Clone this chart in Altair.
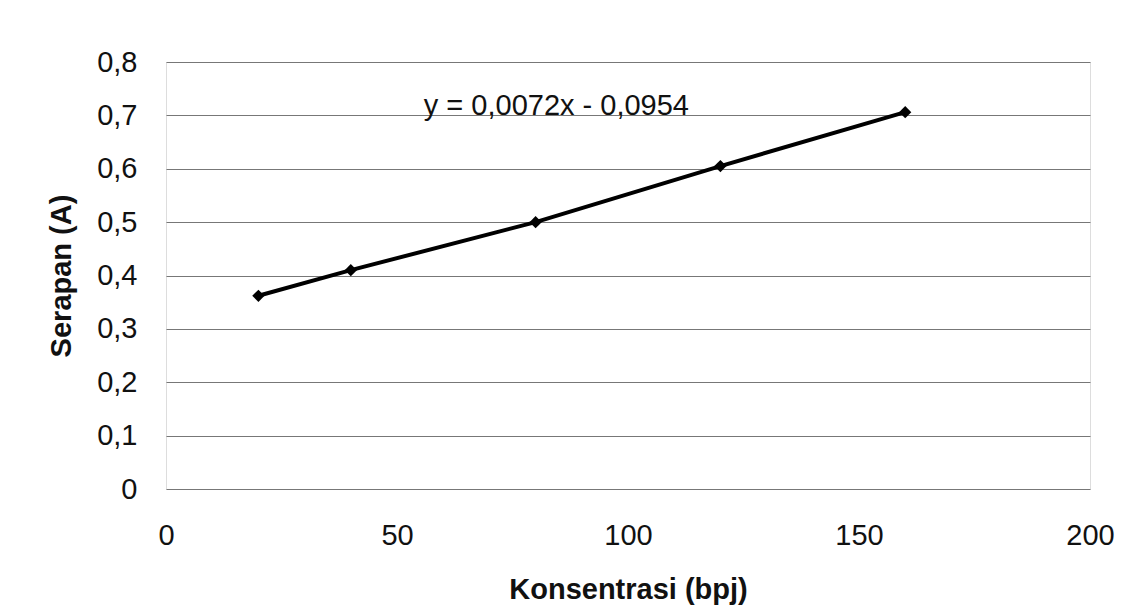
import altair as alt
import pandas as pd

konsentrasi = [20, 40, 80, 120, 160]
serapan = [0.362, 0.41, 0.50, 0.605, 0.706]
persamaan = "y = 0,0072x - 0,0954"
x_ticks = [0, 50, 100, 150, 200]
y_ticks = [0, 0.1, 0.2, 0.3, 0.4, 0.5, 0.6, 0.7, 0.8]

df = pd.DataFrame({"x": konsentrasi, "y": serapan})
ann = pd.DataFrame({"x": [84.5], "y": [0.718], "t": [persamaan]})

FONT = "Liberation Sans"

xs = alt.Scale(domain=[0, 200], nice=False)
ys = alt.Scale(domain=[0, 0.8], nice=False)

xaxis = alt.Axis(values=x_ticks, title="Konsentrasi (bpj)", grid=False, ticks=False,
                 domain=False, labelFont=FONT, labelFontSize=29, labelColor="#111",
                 labelPadding=32, titleFont=FONT, titleFontSize=29, titleFontWeight="bold",
                 titleColor="#111", titlePadding=25, labelFlush=False)
yaxis = alt.Axis(values=y_ticks, title="Serapan (A)", grid=True, gridColor="#777",
                 gridWidth=1, ticks=False, domain=False, labelFont=FONT, labelFontSize=29,
                 labelColor="#111", labelPadding=29, titleFont=FONT, titleFontSize=29,
                 titleFontWeight="bold", titleColor="#111", titlePadding=20,
                 labelExpr="datum.value == 0 ? '0' : replace(format(datum.value, '.1f'), '.', ',')")

base = alt.Chart(df)
line = base.mark_line(color="black", strokeWidth=4).encode(
    x=alt.X("x:Q", scale=xs, axis=xaxis),
    y=alt.Y("y:Q", scale=ys, axis=yaxis),
)
pts = base.mark_point(shape="diamond", filled=True, color="black", size=150, opacity=1).encode(
    x=alt.X("x:Q", scale=xs), y=alt.Y("y:Q", scale=ys)
)
txt = alt.Chart(ann).mark_text(font=FONT, fontSize=29, color="#111", align="center",
                               baseline="middle").encode(
    x=alt.X("x:Q", scale=xs), y=alt.Y("y:Q", scale=ys), text="t:N"
)

chart = (line + pts + txt).properties(
    width=924, height=427,
    autosize=alt.AutoSizeParams(type="none"),
    padding={"left": 158, "top": 54, "right": 30, "bottom": 125},
).configure_view(stroke=None).configure(background="white")

chart.save("out.html", embed_options={"renderer": "svg", "actions": False})
